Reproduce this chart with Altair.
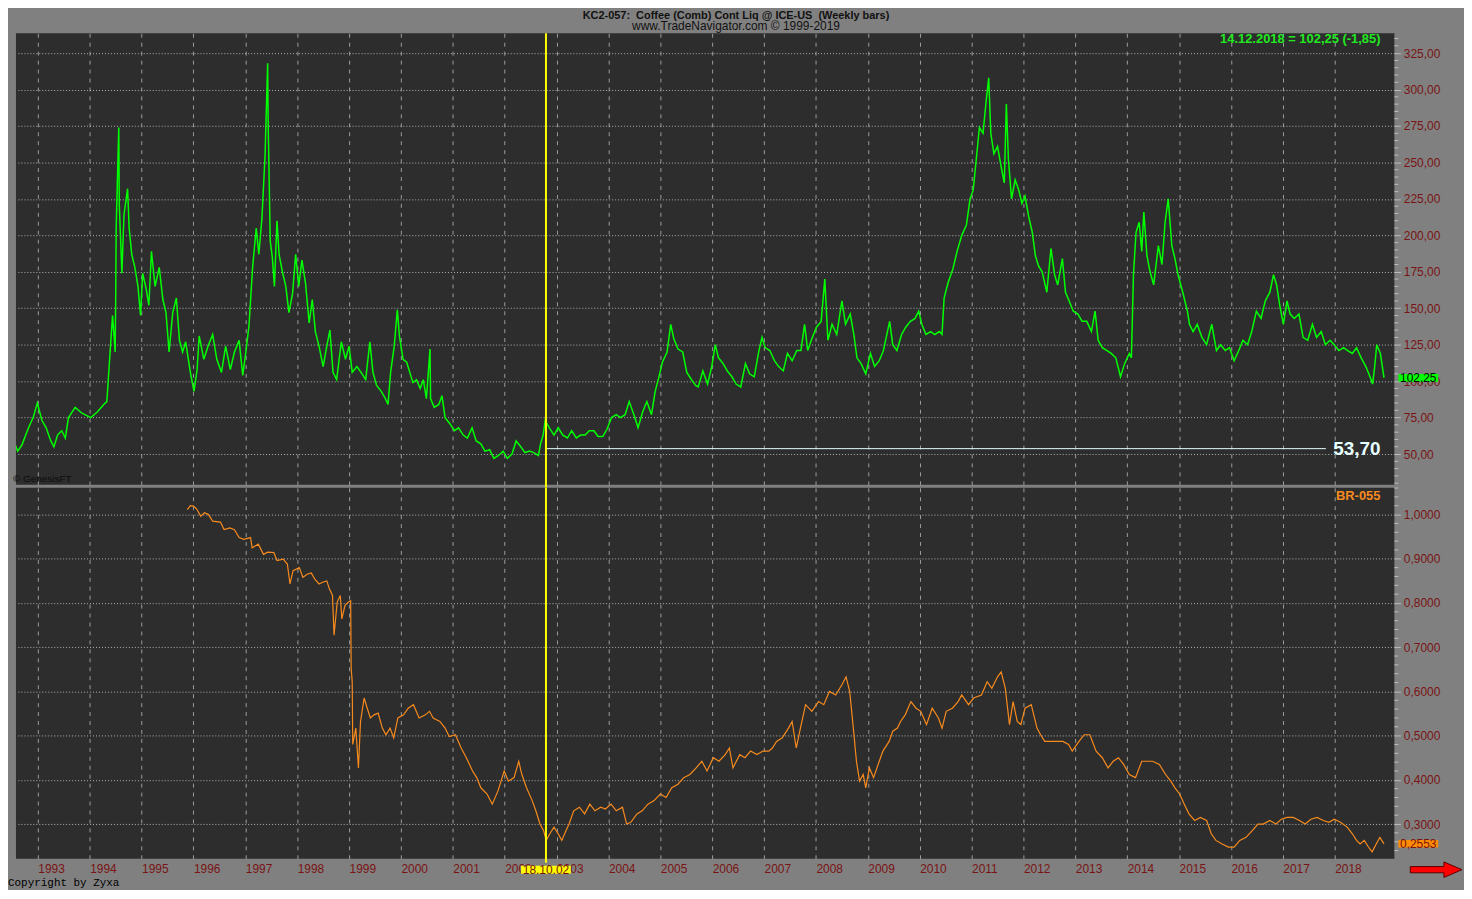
import altair as alt
import pandas as pd

# ---------------- data ----------------
coffee_year_1 = [1992.44, 1992.52, 1992.61, 1992.69, 1992.82, 1992.91, 1992.99, 1993.08, 1993.16, 1993.25,
                 1993.31, 1993.38, 1993.46, 1993.53, 1993.59, 1993.72, 1993.85, 1994.02, 1994.15, 1994.27,
                 1994.33, 1994.38, 1994.44, 1994.49, 1994.50, 1994.51, 1994.56, 1994.57, 1994.62, 1994.66,
                 1994.73, 1994.76, 1994.81, 1994.87, 1994.93, 1994.98, 1995.02, 1995.09, 1995.14, 1995.19,
                 1995.26, 1995.34, 1995.41, 1995.47, 1995.53, 1995.60, 1995.67, 1995.73, 1995.79, 1995.85,
                 1995.94, 1996.01, 1996.07, 1996.11, 1996.20, 1996.28, 1996.37, 1996.45, 1996.54, 1996.62,
                 1996.71, 1996.79, 1996.88, 1996.95, 1997.01, 1997.07, 1997.14, 1997.21, 1997.26, 1997.32,
                 1997.38, 1997.43, 1997.44, 1997.48, 1997.52, 1997.56, 1997.61, 1997.65, 1997.72, 1997.78,
                 1997.84, 1997.91, 1997.97, 1998.03, 1998.09, 1998.16, 1998.23, 1998.29, 1998.35, 1998.42,
                 1998.50, 1998.57, 1998.63, 1998.69, 1998.76, 1998.85, 1998.93, 1999.00, 1999.06, 1999.15,
                 1999.23, 1999.32, 1999.40, 1999.46, 1999.53, 1999.62, 1999.70, 1999.75, 1999.80, 1999.87,
                 1999.93, 1999.97, 2000.04, 2000.11, 2000.17, 2000.23, 2000.30, 2000.37, 2000.43, 2000.49,
                 2000.56, 2000.57, 2000.64, 2000.73, 2000.79, 2000.85, 2000.94, 2001.03, 2001.11, 2001.20,
                 2001.28, 2001.37, 2001.45, 2001.54, 2001.62, 2001.71, 2001.79, 2001.88, 2001.97, 2002.05,
                 2002.14, 2002.22, 2002.31, 2002.39, 2002.48, 2002.56, 2002.65, 2002.69, 2002.74, 2002.78]
coffee_close_1 = [63, 61, 52, 56, 68, 75, 85, 73, 68, 59,
                  55, 63, 66, 61, 75, 82, 78, 75, 79, 84,
                  86, 113, 145, 120, 153, 205, 274, 221, 174, 214,
                  232, 205, 187, 178, 165, 145, 174, 163, 152, 189,
                  165, 178, 156, 147, 120, 147, 157, 128, 120, 127,
                  106, 93, 108, 131, 115, 124, 132, 115, 106, 124,
                  108, 120, 128, 104, 120, 138, 178, 205, 187, 212,
                  255, 318, 277, 196, 185, 165, 210, 187, 174, 165,
                  147, 160, 187, 165, 183, 167, 140, 156, 134, 124,
                  110, 124, 135, 106, 101, 127, 115, 124, 106, 110,
                  106, 101, 127, 106, 97, 93, 88, 84, 106, 124,
                  149, 131, 115, 113, 106, 99, 101, 95, 101, 88,
                  122, 88, 82, 84, 90, 75, 71, 66, 68, 63,
                  61, 68, 59, 57, 52, 53, 47, 49, 52, 47,
                  50, 59, 55, 51, 52, 51, 49, 57, 63, 73]

coffee_year_2 = [2002.86, 2002.95, 2003.03, 2003.12, 2003.21, 2003.29, 2003.38, 2003.46, 2003.55, 2003.63,
                 2003.72, 2003.80, 2003.89, 2003.97, 2004.06, 2004.15, 2004.23, 2004.32, 2004.40, 2004.49,
                 2004.57, 2004.66, 2004.74, 2004.83, 2004.90, 2004.96, 2005.04, 2005.13, 2005.20, 2005.26,
                 2005.34, 2005.43, 2005.51, 2005.60, 2005.68, 2005.73, 2005.82, 2005.91, 2005.99, 2006.06,
                 2006.12, 2006.21, 2006.29, 2006.38, 2006.46, 2006.55, 2006.64, 2006.72, 2006.81, 2006.90,
                 2006.96, 2007.02, 2007.11, 2007.20, 2007.28, 2007.37, 2007.45, 2007.54, 2007.63, 2007.71,
                 2007.78, 2007.84, 2007.93, 2008.01, 2008.10, 2008.17, 2008.23, 2008.31, 2008.40, 2008.50,
                 2008.57, 2008.66, 2008.73, 2008.79, 2008.87, 2008.96, 2009.05, 2009.13, 2009.22, 2009.30,
                 2009.42, 2009.48, 2009.56, 2009.65, 2009.73, 2009.82, 2009.91, 2009.98, 2010.04, 2010.12,
                 2010.21, 2010.29, 2010.38, 2010.43, 2010.47, 2010.55, 2010.64, 2010.72, 2010.81, 2010.90,
                 2010.97, 2011.03, 2011.09, 2011.15, 2011.22, 2011.28, 2011.33, 2011.37, 2011.43, 2011.50,
                 2011.57, 2011.63, 2011.67, 2011.71, 2011.77, 2011.84, 2011.91, 2011.97, 2012.03, 2012.10,
                 2012.17, 2012.23, 2012.29, 2012.36, 2012.45, 2012.53, 2012.60, 2012.66, 2012.75, 2012.81,
                 2012.88, 2012.96, 2013.05, 2013.13, 2013.22, 2013.31, 2013.38, 2013.44, 2013.52, 2013.61,
                 2013.69, 2013.78, 2013.87, 2013.95, 2014.04, 2014.08, 2014.12, 2014.17, 2014.23, 2014.28,
                 2014.32, 2014.38, 2014.44, 2014.51, 2014.60, 2014.67, 2014.73, 2014.79, 2014.86, 2014.92,
                 2014.98, 2015.07, 2015.16, 2015.20, 2015.27, 2015.35, 2015.44, 2015.53, 2015.63, 2015.72,
                 2015.80, 2015.89, 2015.97, 2016.06, 2016.15, 2016.23, 2016.32, 2016.40, 2016.49, 2016.58,
                 2016.66, 2016.75, 2016.82, 2016.88, 2016.94, 2017.01, 2017.08, 2017.14, 2017.22, 2017.31,
                 2017.39, 2017.48, 2017.57, 2017.65, 2017.74, 2017.82, 2017.91, 2017.99, 2018.08, 2018.17,
                 2018.25, 2018.34, 2018.42, 2018.51, 2018.60, 2018.68, 2018.73, 2018.77, 2018.81, 2018.88,
                 2018.95]
coffee_close_2 = [68, 63, 68, 63, 61, 66, 61, 63, 63, 66,
                  66, 62, 62, 67, 75, 77, 75, 77, 86, 77,
                  68, 79, 86, 77, 93, 101, 113, 120, 139, 129,
                  122, 120, 106, 101, 97, 96, 107, 98, 110, 125,
                  116, 112, 107, 103, 98, 96, 112, 105, 103, 121,
                  130, 123, 121, 114, 110, 107, 119, 114, 121, 121,
                  139, 121, 130, 137, 141, 170, 128, 139, 132, 155,
                  139, 146, 132, 116, 112, 105, 119, 110, 114, 121,
                  141, 125, 121, 132, 137, 141, 143, 148, 139, 132,
                  134, 132, 134, 132, 157, 168, 177, 189, 200, 207,
                  225, 231, 252, 274, 270, 292, 308, 270, 256, 261,
                  247, 236, 290, 252, 225, 238, 231, 222, 227, 213,
                  202, 186, 179, 175, 161, 191, 173, 166, 184, 161,
                  155, 148, 146, 141, 141, 134, 148, 128, 123, 121,
                  119, 116, 103, 112, 119, 116, 173, 202, 209, 189,
                  216, 186, 175, 166, 193, 180, 209, 225, 193, 184,
                  173, 161, 148, 139, 134, 139, 130, 125, 139, 121,
                  125, 121, 123, 114, 121, 128, 125, 134, 148, 143,
                  155, 161, 173, 166, 152, 139, 155, 146, 143, 146,
                  130, 128, 139, 130, 134, 125, 128, 125, 121, 123,
                  121, 119, 123, 116, 110, 103, 98, 110, 125, 119,
                  102.25]

brl_year_1 = [1995.88, 1995.94, 1996.00, 1996.06, 1996.14, 1996.21, 1996.29, 1996.37, 1996.52, 1996.59,
              1996.70, 1996.79, 1996.88, 1996.97, 1997.10, 1997.13, 1997.25, 1997.35, 1997.43, 1997.55,
              1997.61, 1997.73, 1997.81, 1997.86, 1997.92, 1998.04, 1998.11, 1998.19, 1998.27, 1998.34,
              1998.42, 1998.49, 1998.57, 1998.62, 1998.68, 1998.71, 1998.77, 1998.83, 1998.86, 1998.92,
              1998.98, 1999.03, 1999.04, 1999.06, 1999.07, 1999.13, 1999.18, 1999.22, 1999.29, 1999.35,
              1999.41, 1999.48, 1999.56, 1999.64, 1999.71, 1999.79, 1999.86, 1999.94, 2000.05, 2000.14,
              2000.24, 2000.35, 2000.47, 2000.55, 2000.62, 2000.75, 2000.85, 2000.93, 2001.05, 2001.16,
              2001.26, 2001.38, 2001.46, 2001.54, 2001.66, 2001.76, 2001.87, 2001.99, 2002.07, 2002.18,
              2002.27, 2002.33, 2002.42, 2002.53, 2002.60, 2002.68, 2002.75, 2002.80]
brl_rate_1 = [1.011, 1.020, 1.019, 1.013, 0.996, 1.004, 1.000, 0.985, 0.983, 0.966,
              0.970, 0.966, 0.948, 0.944, 0.948, 0.925, 0.933, 0.910, 0.915, 0.914,
              0.896, 0.899, 0.888, 0.843, 0.873, 0.880, 0.858, 0.865, 0.868, 0.854,
              0.843, 0.847, 0.850, 0.832, 0.817, 0.727, 0.802, 0.817, 0.764, 0.794,
              0.802, 0.805, 0.652, 0.622, 0.480, 0.517, 0.427, 0.532, 0.585, 0.562,
              0.540, 0.547, 0.551, 0.517, 0.502, 0.517, 0.495, 0.540, 0.547, 0.562,
              0.570, 0.540, 0.547, 0.555, 0.540, 0.532, 0.517, 0.498, 0.502, 0.472,
              0.450, 0.420, 0.405, 0.382, 0.368, 0.345, 0.375, 0.420, 0.397, 0.405,
              0.442, 0.412, 0.382, 0.353, 0.330, 0.300, 0.285, 0.263]

brl_year_2 = [2002.87, 2002.95, 2003.03, 2003.10, 2003.18, 2003.24, 2003.33, 2003.44, 2003.54, 2003.64,
              2003.74, 2003.85, 2003.94, 2004.05, 2004.15, 2004.27, 2004.35, 2004.43, 2004.55, 2004.65,
              2004.76, 2004.88, 2005.00, 2005.11, 2005.22, 2005.34, 2005.45, 2005.57, 2005.69, 2005.80,
              2005.90, 2006.02, 2006.13, 2006.25, 2006.33, 2006.40, 2006.53, 2006.63, 2006.74, 2006.86,
              2006.98, 2007.09, 2007.16, 2007.24, 2007.35, 2007.47, 2007.54, 2007.62, 2007.70, 2007.80,
              2007.92, 2008.05, 2008.15, 2008.26, 2008.38, 2008.50, 2008.58, 2008.65, 2008.72, 2008.78,
              2008.84, 2008.91, 2008.96, 2009.03, 2009.11, 2009.22, 2009.29, 2009.41, 2009.48, 2009.57,
              2009.63, 2009.72, 2009.83, 2009.93, 2010.02, 2010.13, 2010.24, 2010.36, 2010.43, 2010.51,
              2010.63, 2010.74, 2010.81, 2010.94, 2011.04, 2011.19, 2011.30, 2011.39, 2011.50, 2011.57,
              2011.65, 2011.73, 2011.80, 2011.88, 2011.95, 2012.03, 2012.15, 2012.26, 2012.33, 2012.41,
              2012.52, 2012.64, 2012.76, 2012.87, 2012.94, 2013.07, 2013.17, 2013.28, 2013.40, 2013.52,
              2013.63, 2013.73, 2013.83, 2013.93, 2014.04, 2014.16, 2014.28, 2014.39, 2014.49, 2014.62,
              2014.74, 2014.84, 2014.92, 2015.01, 2015.10, 2015.19, 2015.30, 2015.41, 2015.53, 2015.62,
              2015.71, 2015.83, 2015.95, 2016.06, 2016.17, 2016.29, 2016.41, 2016.52, 2016.62, 2016.75,
              2016.87, 2016.97, 2017.08, 2017.20, 2017.32, 2017.43, 2017.54, 2017.66, 2017.78, 2017.89,
              2017.99, 2018.11, 2018.24, 2018.34, 2018.42, 2018.49, 2018.57, 2018.65, 2018.72, 2018.80,
              2018.87, 2018.95]
brl_rate_2 = [0.278, 0.293, 0.278, 0.263, 0.285, 0.300, 0.330, 0.338, 0.323, 0.345,
              0.330, 0.338, 0.334, 0.345, 0.330, 0.338, 0.300, 0.304, 0.323, 0.330,
              0.345, 0.353, 0.368, 0.360, 0.382, 0.390, 0.405, 0.412, 0.427, 0.442,
              0.420, 0.450, 0.442, 0.457, 0.472, 0.427, 0.457, 0.450, 0.465, 0.457,
              0.465, 0.465, 0.472, 0.487, 0.495, 0.517, 0.532, 0.472, 0.517, 0.570,
              0.555, 0.577, 0.570, 0.600, 0.592, 0.615, 0.633, 0.600, 0.517, 0.442,
              0.397, 0.412, 0.382, 0.427, 0.405, 0.442, 0.465, 0.487, 0.510, 0.517,
              0.532, 0.547, 0.577, 0.562, 0.555, 0.525, 0.562, 0.540, 0.517, 0.555,
              0.562, 0.577, 0.592, 0.570, 0.585, 0.592, 0.622, 0.607, 0.633, 0.644,
              0.607, 0.525, 0.577, 0.532, 0.525, 0.562, 0.570, 0.517, 0.502, 0.487,
              0.487, 0.487, 0.487, 0.480, 0.465, 0.487, 0.502, 0.502, 0.465, 0.450,
              0.427, 0.442, 0.450, 0.435, 0.412, 0.405, 0.442, 0.442, 0.442, 0.435,
              0.412, 0.397, 0.382, 0.368, 0.345, 0.323, 0.308, 0.315, 0.308, 0.278,
              0.263, 0.255, 0.248, 0.248, 0.263, 0.270, 0.285, 0.300, 0.300, 0.308,
              0.300, 0.311, 0.315, 0.315, 0.308, 0.300, 0.311, 0.315, 0.308, 0.304,
              0.311, 0.304, 0.293, 0.278, 0.263, 0.255, 0.263, 0.248, 0.237, 0.255,
              0.270, 0.2553]

year_ticks = list(range(1993, 2019))
coffee_major = [50, 75, 100, 125, 150, 175, 200, 225, 250, 275, 300, 325]
coffee_minor = [v for v in range(30, 340, 5) if v not in coffee_major]
brl_major = [0.3, 0.4, 0.5, 0.6, 0.7, 0.8, 0.9, 1.0]
brl_minor = [round(0.24 + 0.02 * i, 2) for i in range(42) if round((0.24 + 0.02 * i) * 10, 6) % 1 != 0]

marker_date = 2002.795
marker_label = "18.10.02"
level_value = 53.70
level_end = 2017.83
last_coffee = 102.25
last_brl = 0.2553

coffee = pd.DataFrame({"year": coffee_year_1 + coffee_year_2, "close": coffee_close_1 + coffee_close_2})
brl = pd.DataFrame({"year": brl_year_1 + brl_year_2, "rate": brl_rate_1 + brl_rate_2})
coffee_minor_df = pd.DataFrame({"close": coffee_minor})
brl_minor_df = pd.DataFrame({"rate": brl_minor})

# ---------------- styles ----------------
W = 1386
H_TOP = 454
H_BOT = 373
FONT = "Liberation Sans"
LABEL_RED = "#7a1414"
GRID = "#9c9c9c"
X_DOMAIN = [1992.578, 2019.15]

xscale = alt.Scale(domain=X_DOMAIN, nice=False, zero=False)

x_top = alt.X("year:Q", scale=xscale, title=None,
              axis=alt.Axis(values=year_ticks, grid=True, gridDash=[4, 5], gridColor=GRID,
                            labels=False, ticks=False, domain=False))
x_bot = alt.X("year:Q", scale=xscale, title=None,
              axis=alt.Axis(values=year_ticks, grid=True, gridDash=[4, 5], gridColor=GRID,
                            labels=True, ticks=False, domain=False, labelAlign="left",
                            labelBaseline="top", labelPadding=5, labelFont=FONT, labelFontSize=12,
                            labelColor=LABEL_RED, format="d", labelOverlap=False, labelBound=False,
                            labelFlush=False))

y_top = alt.Y("close:Q", scale=alt.Scale(domain=[28.9, 338.6], nice=False, zero=False), title=None,
              axis=alt.Axis(orient="right", values=coffee_major, grid=True, gridDash=[1, 2],
                            gridColor="#b4b4b4", tickSize=6, tickColor="#bdbdbd", domain=False,
                            labelFont=FONT, labelFontSize=12, labelColor=LABEL_RED, labelPadding=3,
                            labelOverlap=False, labelBound=False, labelBaseline="middle",
                            labelExpr="replace(format(datum.value, '.2f'), '.', ',')"))

y_bot = alt.Y("rate:Q", scale=alt.Scale(domain=[0.2215, 1.0606], nice=False, zero=False), title=None,
              axis=alt.Axis(orient="right", values=brl_major, grid=True, gridDash=[1, 2],
                            gridColor="#b4b4b4", tickSize=6, tickColor="#bdbdbd", domain=False,
                            labelFont=FONT, labelFontSize=12, labelColor=LABEL_RED, labelPadding=3,
                            labelOverlap=False, labelBound=False, labelBaseline="middle",
                            labelExpr="replace(format(datum.value, '.4f'), '.', ',')"))

# ---------------- top panel ----------------
coffee_line = alt.Chart(coffee).mark_line(color="#00ff00", strokeWidth=1.5, clip=True).encode(
    x=x_top, y=y_top)

minor_top = alt.Chart(coffee_minor_df).mark_rule(color="#bdbdbd", strokeWidth=1).encode(
    x=alt.value(W), x2=alt.value(W + 4), y=y_top)

marker_df = pd.DataFrame({"year": [marker_date]})
level_df = pd.DataFrame({"year": [marker_date], "year2": [level_end], "close": [level_value]})

level_rule = alt.Chart(level_df).mark_rule(color="#e6ffff", strokeWidth=1).encode(
    x=x_top, x2="year2:Q", y=y_top)
level_text = alt.Chart(level_df).mark_text(
    text="53,70", font=FONT, fontSize=19, fontWeight="bold", color="#e6ffff", align="right",
    baseline="middle").encode(x=alt.value(W - 14), y=y_top)

marker_top = alt.Chart(marker_df).mark_rule(color="#ffff00", strokeWidth=2).encode(
    x=x_top, y=alt.value(0), y2=alt.value(H_TOP + 3))

header_text = alt.Chart(marker_df).mark_text(
    text="14.12.2018 = 102,25 (-1,85)", font=FONT, fontSize=13, fontWeight="bold", color="#22e822",
    align="right", baseline="top").encode(x=alt.value(W - 14), y=alt.value(0))

genesis_text = alt.Chart(marker_df).mark_text(
    text="© GenesisFT", font=FONT, fontSize=10, color="#0c0c0c", align="left",
    baseline="bottom").encode(x=alt.value(-3), y=alt.value(H_TOP - 1))

box_path = "M-1,-0.19L1,-0.19L1,0.19L-1,0.19Z"
last_df = pd.DataFrame({"close": [last_coffee]})
last_box = alt.Chart(last_df).mark_point(shape=box_path, filled=True, fill="#00ff00", opacity=1,
                                         strokeWidth=0, size=1600).encode(
    x=alt.value(W + 24), y=y_top)
last_text = alt.Chart(last_df).mark_text(text="102,25", font=FONT, fontSize=12, color="#0a0a0a",
                                         align="center", baseline="middle").encode(
    x=alt.value(W + 24), y=y_top)

top = alt.layer(coffee_line, minor_top, level_rule, marker_top, level_text, header_text, genesis_text,
                last_box, last_text).properties(width=W, height=H_TOP)

# ---------------- bottom panel ----------------
brl_line = alt.Chart(brl).mark_line(color="#f78a1d", strokeWidth=1.2, clip=True).encode(x=x_bot, y=y_bot)

minor_bot = alt.Chart(brl_minor_df).mark_rule(color="#bdbdbd", strokeWidth=1).encode(
    x=alt.value(W), x2=alt.value(W + 4), y=y_bot)

marker_bot = alt.Chart(marker_df).mark_rule(color="#ffff00", strokeWidth=2).encode(
    x=x_bot, y=alt.value(0), y2=alt.value(H_BOT + 4))

date_box_path = "M-1,-0.16L1,-0.16L1,0.16L-1,0.16Z"
date_box = alt.Chart(marker_df).mark_point(shape=date_box_path, filled=True, fill="#ffff00", opacity=1,
                                           strokeWidth=0, size=2500).encode(
    x=x_bot, y=alt.value(H_BOT + 11))
date_text = alt.Chart(marker_df).mark_text(text=marker_label, font=FONT, fontSize=12, color=LABEL_RED,
                                           align="center", baseline="middle").encode(
    x=x_bot, y=alt.value(H_BOT + 11))

br_title = alt.Chart(marker_df).mark_text(
    text="BR-055", font=FONT, fontSize=13, fontWeight="bold", color="#f78a1d", align="right",
    baseline="top").encode(x=alt.value(W - 14), y=alt.value(2))

last_brl_df = pd.DataFrame({"rate": [last_brl]})
brl_box = alt.Chart(last_brl_df).mark_point(shape=box_path, filled=True, fill="#ff8c00", opacity=1,
                                            strokeWidth=0, size=1600).encode(
    x=alt.value(W + 24), y=y_bot)
brl_text = alt.Chart(last_brl_df).mark_text(text="0,2553", font=FONT, fontSize=12, color=LABEL_RED,
                                            align="center", baseline="middle").encode(
    x=alt.value(W + 24), y=y_bot)

arrow_path = "M-1,-0.12L0.3,-0.12L0.3,-0.3L1,0L0.3,0.3L0.3,0.12L-1,0.12Z"
arrow = alt.Chart(marker_df).mark_point(shape=arrow_path, filled=True, fill="#ff0000", opacity=1,
                                        stroke="#5a0000", strokeWidth=1, size=2704).encode(
    x=alt.value(W + 42), y=alt.value(H_BOT + 11))

copyright_text = alt.Chart(marker_df).mark_text(
    text="Copyright by Zyxa", font="Liberation Mono", fontSize=11, color="#000000", align="left",
    baseline="middle").encode(x=alt.value(-8), y=alt.value(H_BOT + 24))

bottom = alt.layer(brl_line, minor_bot, marker_bot, date_box, date_text, br_title, brl_box, brl_text,
                   arrow, copyright_text).properties(width=W, height=H_BOT)

chart = alt.vconcat(top, bottom, spacing=3, bounds="flush").properties(
    background="#808080",
    padding={"left": 0, "top": 0, "right": 0, "bottom": 0},
    title=alt.TitleParams(
        text="KC2-057:\u00a0 Coffee (Comb) Cont Liq @ ICE-US\u00a0 (Weekly bars)",
        subtitle="www.TradeNavigator.com © 1999-2019",
        font=FONT, fontSize=11, fontWeight="bold", color="#111111",
        subtitleFont=FONT, subtitleFontSize=12, subtitleColor="#111111",
        subtitlePadding=0, anchor="middle", offset=0),
).configure_view(fill="#2d2d2d", strokeWidth=0)

chart.save("out.html", embed_options={"renderer": "svg", "actions": False})
